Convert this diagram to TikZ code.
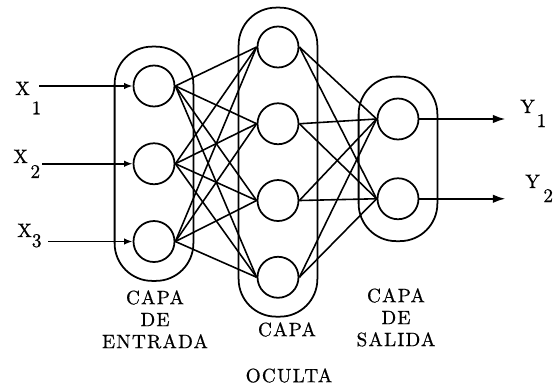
\documentclass[tikz,border=0pt]{standalone}
\usepackage{fontspec}
\usepackage{tikz}
\usetikzlibrary{positioning, arrows.meta, fit}
\newfontfamily\printfont{Latin Modern Roman}[FakeBold=0.7, LetterSpace=6]
\tikzset{
  neuron/.style={
    circle, draw, line width=1pt, minimum size=0.82cm, inner sep=0pt
  },
  layer/.style={
    draw, line width=1pt, rounded corners=0.75cm, inner sep=0.36cm
  },
  every edge/.style={draw, line width=0.9pt},
  feed/.style={line width=1pt, -{Latex[length=0.17cm, width=0.13cm]}},
  result/.style={line width=1pt, -{Latex[length=0.25cm, width=0.17cm]}},
  varname/.style={inner sep=0pt, anchor=base west,
    font=\printfont\fontsize{11}{13}\selectfont},
  caption/.style={inner sep=0pt, anchor=north, align=center,
    font=\printfont\fontsize{11}{12.5}\selectfont},
}

\begin{document}
\begin{tikzpicture}
  \useasboundingbox (0,0) rectangle (11.16,-7.68);

  % capa de entrada
  \node[neuron] (I1) at (3.08,-1.72) {};
  \node[neuron, below=0.7cm of I1] (I2) {};
  \node[neuron, below=0.7cm of I2] (I3) {};
  % capa oculta
  \node[neuron] (H1) at (5.56,-0.94) {};
  \node[neuron, below=0.68cm of H1] (H2) {};
  \node[neuron, below=0.68cm of H2] (H3) {};
  \node[neuron, below=0.68cm of H3] (H4) {};
  % capa de salida
  \node[neuron] (O1) at (7.96,-2.38) {};
  \node[neuron, below=0.74cm of O1] (O2) {};

  \node[layer, fit=(I1)(I3)] (entrada) {};
  \node[layer, fit=(H1)(H4)] (oculta) {};
  \node[layer, fit=(O1)(O2), inner ysep=0.42cm] (salida) {};

  \path (I1.east) edge (H1.west) (I1.east) edge (H2.west)
        (I1.east) edge (H3.west) (I1.east) edge (H4.west)
        (I2.east) edge (H1.west) (I2.east) edge (H2.west)
        (I2.east) edge (H3.west) (I2.east) edge (H4.west)
        (I3.east) edge (H1.west) (I3.east) edge (H2.west)
        (I3.east) edge (H3.west) (I3.east) edge (H4.west);
  \path (H1.east) edge (O1.west) (H1.east) edge (O2.west)
        (H2.east) edge (O1.west) (H2.east) edge (O2.west)
        (H3.east) edge (O1.west) (H3.east) edge (O2.west)
        (H4.east) edge (O1.west) (H4.east) edge (O2.west);

  % entradas y salidas
  \path (I1.west) ++(-1.87,0) coordinate (x1);
  \path (I2.west) ++(-1.81,0) coordinate (x2);
  \path (I3.west) ++(-1.69,0) coordinate (x3);
  \path (O1.east) ++(1.72,0) coordinate (y1);
  \path (O2.east) ++(1.72,0) coordinate (y2);
  \draw[feed] (x1) -- (I1);
  \draw[feed] (x2) -- (I2);
  \draw[feed] (x3) -- (I3);
  \draw[result] (O1) -- (y1);
  \draw[result] (O2) -- (y2);

  \node[varname] (X1) at (0.30,-1.90) {X\kern1pt\raisebox{-11pt}{1}};
  \node[varname] (X2) at (0.26,-3.26) {X\kern1.5pt\raisebox{-8.5pt}{2}};
  \node[varname] (X3) at (0.34,-4.74) {X\raisebox{-5.7pt}{3}};
  \node[varname] (Y1) at (10.40,-2.26) {Y\kern1pt\raisebox{-8pt}{1}};
  \node[varname] (Y2) at (10.50,-3.76) {Y\kern2pt\raisebox{-8pt}{2}};

  \node[caption] (cap1) at (3.10,-5.80) {CAPA\\DE\\ENTRADA};
  \node[caption] (cap2) at (5.74,-6.44) {CAPA};
  \node[caption] (cap2b) at (5.78,-7.36) {OCULTA};
  \node[caption] (cap3) at (7.92,-5.76) {CAPA\\DE\\SALIDA};
\end{tikzpicture}
\end{document}
